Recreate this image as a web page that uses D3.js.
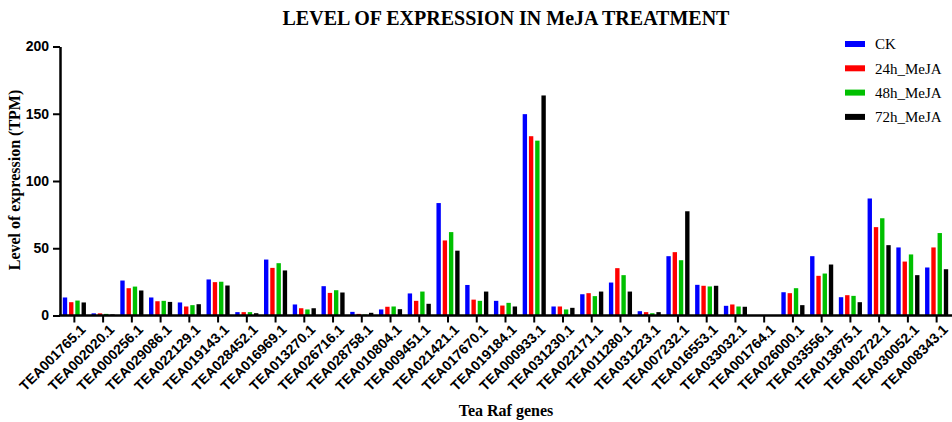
<!DOCTYPE html>
<html>
<head>
<meta charset="utf-8">
<script src="https://cdn.jsdelivr.net/npm/d3@7"></script>
<style>
  body { margin: 0; background: #fff; }
  svg { display: block; }
</style>
</head>
<body>
<div id="chart"></div>
<script>
// データ
const genes = ["TEA001765.1","TEA002020.1","TEA000256.1","TEA029086.1","TEA022129.1","TEA019143.1",
  "TEA028452.1","TEA016969.1","TEA013270.1","TEA026716.1","TEA028758.1","TEA010804.1","TEA009451.1",
  "TEA021421.1","TEA017670.1","TEA019184.1","TEA000933.1","TEA031230.1","TEA022171.1","TEA011280.1",
  "TEA031223.1","TEA007232.1","TEA016553.1","TEA033032.1","TEA001764.1","TEA026000.1","TEA033556.1",
  "TEA013875.1","TEA002722.1","TEA030052.1","TEA008343.1"];
const seriesNames = ["CK", "24h_MeJA", "48h_MeJA", "72h_MeJA"];
const ck    = [13.4, 1.6, 26.0, 13.4, 9.7, 26.8, 2.5, 41.6, 8.2, 21.8, 2.7, 4.5, 16.4, 83.6, 22.7, 10.9, 149.7, 6.7, 15.8, 24.5, 3.2, 44.1, 22.8, 7.2, 0, 17.3, 44.1, 13.6, 87.0, 50.6, 35.7];
const h24   = [9.9, 1.6, 20.3, 10.6, 6.7, 24.8, 2.5, 35.4, 5.4, 16.8, 1.2, 6.5, 10.9, 55.8, 11.8, 7.4, 133.3, 6.7, 16.6, 35.2, 2.5, 47.1, 22.1, 8.2, 0.4, 16.6, 29.5, 15.1, 65.7, 40.1, 50.6];
const h48   = [11.1, 1.2, 21.5, 10.9, 7.7, 25.1, 2.5, 38.9, 4.5, 18.8, 0.7, 6.7, 17.8, 62.0, 10.9, 9.4, 130.0, 4.5, 14.4, 30.0, 1.7, 41.1, 21.6, 6.7, 0, 20.3, 31.2, 14.6, 72.3, 45.4, 61.3];
const h72   = [9.7, 0.8, 18.6, 10.1, 8.4, 22.3, 1.7, 33.5, 5.4, 17.1, 2.0, 4.7, 8.7, 48.2, 17.8, 6.7, 163.6, 5.7, 17.8, 17.8, 2.5, 77.5, 22.1, 6.5, 0, 7.7, 37.9, 9.9, 52.3, 30.0, 34.4];
const yTicks = [0, 50, 100, 150, 200];
const colors = ["#0000ff", "#ff0000", "#00c000", "#000000"];

const seriesValues = [ck, h24, h48, h72];

// 描画
const width = 952, height = 422;
const margin = { top: 46.5, right: 1, bottom: 106.5, left: 60 };

const svg = d3.select("#chart").append("svg")
  .attr("width", width)
  .attr("height", height);

const x0 = d3.scaleBand()
  .domain(genes)
  .range([margin.left, width - margin.right])
  .padding(0);

const x1 = d3.scaleBand()
  .domain(seriesNames)
  .range([0, x0.bandwidth()])
  .paddingInner(0.3)
  .paddingOuter(0.45);

const y = d3.scaleLinear()
  .domain([0, 200])
  .range([height - margin.bottom, margin.top]);

const color = d3.scaleOrdinal().domain(seriesNames).range(colors);

// 棒
const groups = svg.append("g")
  .selectAll("g")
  .data(genes)
  .join("g")
  .attr("transform", d => `translate(${x0(d)},0)`);

groups.selectAll("rect")
  .data((g, i) => seriesNames.map((s, k) => ({ key: s, value: seriesValues[k][i] })))
  .join("rect")
  .attr("x", d => x1(d.key))
  .attr("y", d => y(d.value))
  .attr("width", x1.bandwidth())
  .attr("height", d => y(0) - y(d.value))
  .attr("fill", d => color(d.key));

// X軸
const xAxis = svg.append("g")
  .attr("transform", `translate(0,${y(0)})`)
  .call(d3.axisBottom(x0).tickSize(7).tickSizeOuter(0));
xAxis.select(".domain").attr("stroke-width", 2.5).attr("d", `M${margin.left - 1},0H${width}`);
xAxis.selectAll(".tick line").attr("stroke-width", 2);
xAxis.selectAll(".tick text")
  .attr("font-family", "Liberation Sans, Arial, sans-serif")
  .attr("font-weight", "bold")
  .attr("font-size", 14)
  .attr("fill", "#000")
  .attr("text-anchor", "end")
  .attr("transform", "translate(5,8) rotate(-45)")
  .attr("x", 0)
  .attr("y", 0)
  .attr("dy", "0.71em");

// Y軸
const yAxis = svg.append("g")
  .attr("transform", `translate(${margin.left},0)`)
  .call(d3.axisLeft(y).tickValues(yTicks).tickSize(7).tickPadding(4).tickSizeOuter(0));
yAxis.select(".domain").attr("stroke-width", 2.5);
yAxis.selectAll(".tick line").attr("stroke-width", 2);
yAxis.selectAll(".tick text")
  .attr("font-family", "Liberation Sans, Arial, sans-serif")
  .attr("font-weight", "bold")
  .attr("font-size", 14)
  .attr("fill", "#000");

// タイトル
svg.append("text")
  .attr("x", 506)
  .attr("y", 25)
  .attr("text-anchor", "middle")
  .attr("font-family", "Liberation Serif, Times New Roman, serif")
  .attr("font-weight", "bold")
  .attr("font-size", 20)
  .text("LEVEL OF EXPRESSION IN MeJA TREATMENT");

svg.append("text")
  .attr("x", 506)
  .attr("y", 416)
  .attr("text-anchor", "middle")
  .attr("font-family", "Liberation Serif, Times New Roman, serif")
  .attr("font-weight", "bold")
  .attr("font-size", 16)
  .text("Tea Raf genes");

svg.append("text")
  .attr("transform", "translate(20,180) rotate(-90)")
  .attr("text-anchor", "middle")
  .attr("font-family", "Liberation Serif, Times New Roman, serif")
  .attr("font-weight", "bold")
  .attr("font-size", 16)
  .text("Level of expression (TPM)");

// 凡例
const legend = svg.append("g")
  .selectAll("g")
  .data(seriesNames)
  .join("g")
  .attr("transform", (d, i) => `translate(845,${44 + i * 24.3})`);

legend.append("rect")
  .attr("x", 0)
  .attr("y", -3)
  .attr("width", 20)
  .attr("height", 6)
  .attr("fill", d => color(d));

legend.append("text")
  .attr("x", 30)
  .attr("y", 0)
  .attr("dy", "0.35em")
  .attr("font-family", "Liberation Serif, Times New Roman, serif")
  .attr("font-size", 15)
  .text(d => d);
</script>
</body>
</html>
